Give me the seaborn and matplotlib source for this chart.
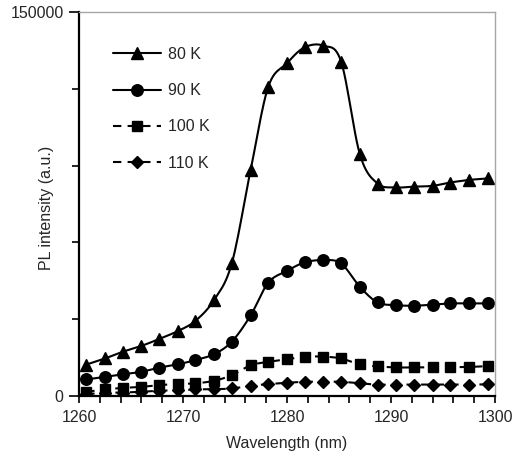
import numpy as np
import pandas as pd
import matplotlib
matplotlib.use("Agg")
import matplotlib.pyplot as plt
from matplotlib.lines import Line2D
from matplotlib.ticker import MultipleLocator, FixedLocator
import seaborn as sns

# wavelength of each measurement (nm)
wavelength = [1260.7, 1262.5, 1264.2, 1266.0, 1267.7, 1269.5, 1271.2, 1273.0,
              1274.7, 1276.5, 1278.2, 1280.0, 1281.7, 1283.5, 1285.2, 1287.0,
              1288.7, 1290.5, 1292.2, 1294.0, 1295.7, 1297.5, 1299.3]

pl_80k = [12300, 14700, 17300, 19600, 22300, 25400, 29400, 37600,
          52000, 88300, 120800, 130000, 136200, 136800, 130600, 94500,
          83000, 81500, 81800, 82100, 83400, 84400, 85000]
pl_90k = [6500, 7500, 8500, 9500, 11100, 12400, 14100, 16400,
          21300, 31500, 44300, 48900, 52200, 53100, 51800, 42700,
          36600, 35500, 35300, 35700, 36200, 36200, 36200]
pl_100k = [1700, 2600, 3200, 3600, 4300, 4700, 5000, 6000,
           8200, 12000, 13400, 14400, 15400, 15400, 14700, 12400,
           11600, 11200, 11200, 11200, 11300, 11400, 11700]
pl_110k = [800, 1300, 1400, 1700, 2100, 2300, 2600, 2700,
           3000, 4000, 4700, 5200, 5600, 5600, 5600, 5000,
           4500, 4500, 4500, 4500, 4500, 4500, 4600]

series = [("80 K", pl_80k, "^", 8.5, "-"),
          ("90 K", pl_90k, "o", 8.3, "-"),
          ("100 K", pl_100k, "s", 6.5, (0, (4, 3))),
          ("110 K", pl_110k, "D", 5.8, (0, (4, 3)))]


def smooth(x, y, n=12):
    # catmull-rom curve through the points, like the spreadsheet's smoothed line
    x = np.asarray(x, float)
    y = np.asarray(y, float)
    px = np.concatenate([[2 * x[0] - x[1]], x, [2 * x[-1] - x[-2]]])
    py = np.concatenate([[2 * y[0] - y[1]], y, [2 * y[-1] - y[-2]]])
    t = np.linspace(0, 1, n, endpoint=False)
    xs, ys = [], []
    for i in range(1, len(px) - 2):
        for p, out in ((px, xs), (py, ys)):
            p0, p1, p2, p3 = p[i - 1], p[i], p[i + 1], p[i + 2]
            out.extend(0.5 * (2 * p1 + (-p0 + p2) * t
                              + (2 * p0 - 5 * p1 + 4 * p2 - p3) * t ** 2
                              + (-p0 + 3 * p1 - 3 * p2 + p3) * t ** 3))
    xs.append(x[-1])
    ys.append(y[-1])
    return np.array(xs), np.array(ys)


sns.set_style("white")
plt.rcParams["font.family"] = ["Liberation Sans", "DejaVu Sans"]
fs = 11.5

fig = plt.figure(figsize=(5.13, 4.59), dpi=100)
ax = fig.add_axes([0.154, 0.137, 0.811, 0.837])

handles = []
for label, vals, mk, ms, ls in series:
    sx, sy = smooth(wavelength, vals)
    sns.lineplot(x=sx, y=sy, ax=ax, color="black", lw=1.5, linestyle=ls,
                 sort=False, estimator=None)
    df = pd.DataFrame({"wl": wavelength, "pl": vals})
    ax.plot(df["wl"], df["pl"], linestyle="none", marker=mk, ms=ms,
            color="black")
    handles.append(Line2D([], [], color="black", lw=1.5, linestyle=ls,
                          marker=mk, ms=ms, label=label))

ax.set_xlim(1260, 1300)
ax.set_ylim(0, 150000)
ax.xaxis.set_major_locator(MultipleLocator(10))
ax.xaxis.set_minor_locator(MultipleLocator(2))
ax.yaxis.set_major_locator(FixedLocator([0, 150000]))
ax.yaxis.set_minor_locator(MultipleLocator(30000))
ax.tick_params(axis="both", which="both", direction="out", color="black",
               width=1.2, labelsize=fs)
ax.tick_params(axis="x", which="both", length=5, bottom=True, pad=5)
ax.tick_params(axis="y", which="major", length=7, left=True, pad=4)
ax.tick_params(axis="y", which="minor", length=5, left=True)

for side in ("left", "bottom"):
    ax.spines[side].set_color("black")
    ax.spines[side].set_linewidth(1.6)
for side in ("top", "right"):
    ax.spines[side].set_color("#a6a6a6")
    ax.spines[side].set_linewidth(1.0)

ax.set_xlabel("Wavelength (nm)", fontsize=fs, labelpad=8)
ax.set_ylabel("PL intensity (a.u.)", fontsize=fs)
ax.yaxis.set_label_coords(-0.06, 0.49)

ax.legend(handles=handles, loc="upper left", bbox_to_anchor=(0.082, 0.909),
          frameon=False, handlelength=3.0, labelspacing=1.33,
          handletextpad=0.45, borderpad=0, borderaxespad=0, fontsize=fs)

fig.savefig("out.png", dpi=100)
